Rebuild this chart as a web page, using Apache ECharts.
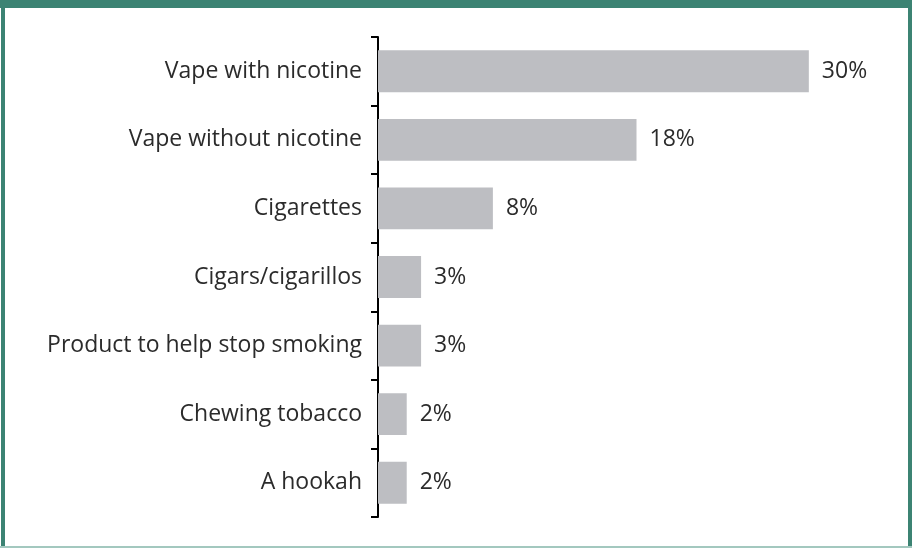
<!DOCTYPE html>
<html><head><meta charset="utf-8">
<script src="https://cdn.jsdelivr.net/npm/echarts@6/dist/echarts.min.js"></script>
<style>html,body{margin:0;padding:0;background:#fff}#c{width:912px;height:548px}</style>
</head><body><div id="c"></div>
<script>
var categories = ["Vape with nicotine","Vape without nicotine","Cigarettes","Cigars/cigarillos","Product to help stop smoking","Chewing tobacco","A hookah"];
var values = [30,18,8,3,3,2,2];
var labels = ["30%","18%","8%","3%","3%","2%","2%"];

var chart = echarts.init(document.getElementById('c'));
var font = '"Open Sans","Noto Sans",sans-serif';
chart.setOption({
  animation:false,
  graphic:[
    {type:'rect',shape:{x:0,y:0,width:912,height:8},style:{fill:'#3C8373'}},
    {type:'rect',shape:{x:1,y:0,width:4,height:548},style:{fill:'#3C8373'}},
    {type:'rect',shape:{x:908,y:0,width:4,height:548},style:{fill:'#3C8373'}},
    {type:'rect',shape:{x:0,y:546,width:912,height:2},style:{fill:'#A3C8BF'}}
  ],
  grid:{left:378,top:37,bottom:31,width:517,containLabel:false},
  xAxis:{type:'value',min:0,max:36,show:false},
  yAxis:{type:'category',data:categories,inverse:true,
    axisLine:{lineStyle:{color:'#000',width:2}},
    axisTick:{show:true,length:7,lineStyle:{color:'#000',width:2}},
    axisLabel:{fontFamily:font,fontSize:23,color:'#2b2b2b',margin:16}},
  series:[{type:'bar',data:values,barCategoryGap:'39%',
    itemStyle:{color:'#BDBEC2'},
    label:{show:true,position:'right',distance:13,fontFamily:font,fontSize:23,color:'#2b2b2b',
      formatter:function(p){return labels[p.dataIndex];}}}]
});
</script></body></html>
